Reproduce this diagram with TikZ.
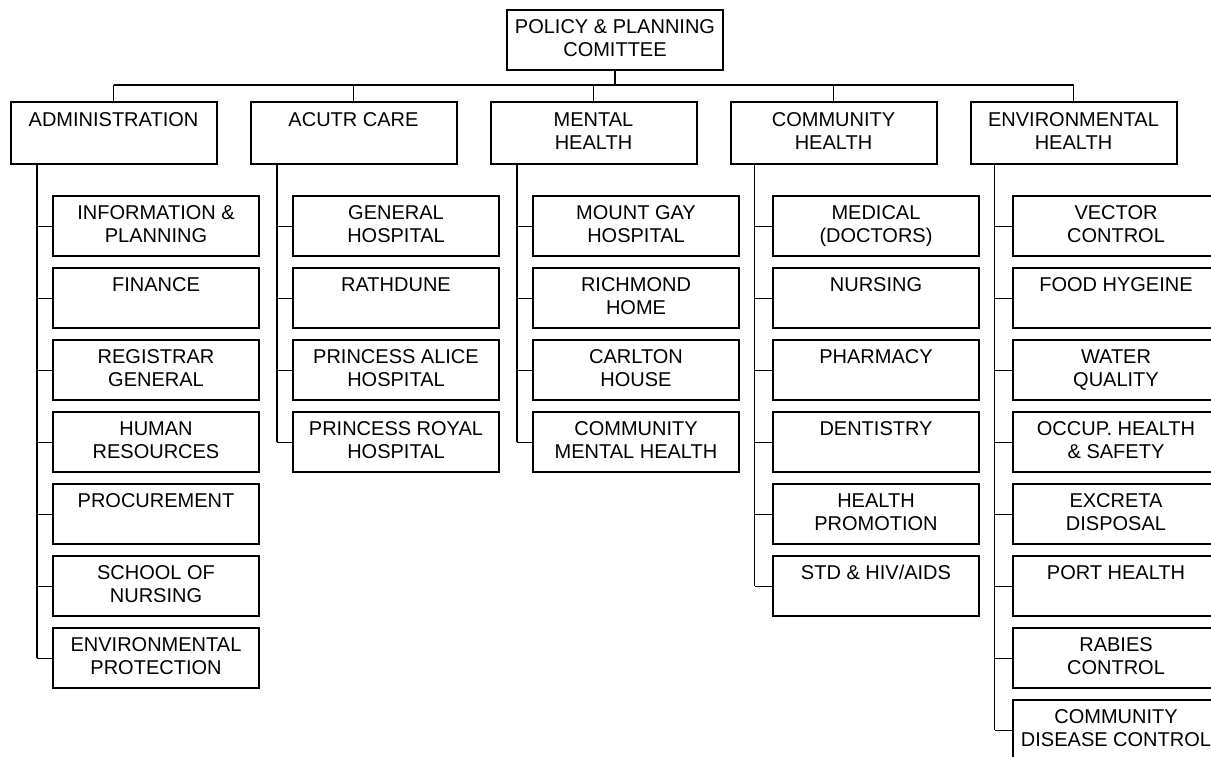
\documentclass[tikz,border=0pt]{standalone}
\usepackage{fontspec}
\setmainfont{Liberation Sans}
\newcommand{\lines}[2]{\strut #1\\\strut #2}

\begin{document}
\begin{tikzpicture}[x=1pt,y=-1pt,
        unit/.style={draw, line width=2pt, minimum width=206pt, minimum height=60pt, inner sep=0pt, align=center, font=\fontsize{20}{23.3}\selectfont},
        dept/.style={unit, minimum height=62pt},
        link/.style={line width=1pt},
        trunk/.style={line width=1.5pt}]
        \useasboundingbox (0,0) rectangle (1211,757);

        \node[unit, minimum width=216pt] (ppc) at (615,40) {\lines{POLICY \& PLANNING}{COMITTEE}};

        \node[dept] (adm) at (113.5,133) {\lines{ADMINISTRATION}{}};
        \node[dept] (acu) at (353.5,133) {\lines{ACUTR CARE}{}};
        \node[dept] (men) at (593.5,133) {\lines{MENTAL}{HEALTH}};
        \node[dept] (com) at (833.5,133) {\lines{COMMUNITY}{HEALTH}};
        \node[dept] (env) at (1073.5,133) {\lines{ENVIRONMENTAL}{HEALTH}};

        \node[unit] (adm1) at (156,226) {\lines{INFORMATION \&}{PLANNING}};
        \node[unit] (adm2) at (156,298) {\lines{FINANCE}{}};
        \node[unit] (adm3) at (156,370) {\lines{REGISTRAR}{GENERAL}};
        \node[unit] (adm4) at (156,442) {\lines{HUMAN}{RESOURCES}};
        \node[unit] (adm5) at (156,514) {\lines{PROCUREMENT}{}};
        \node[unit] (adm6) at (156,586) {\lines{SCHOOL OF}{NURSING}};
        \node[unit] (adm7) at (156,658) {\lines{ENVIRONMENTAL}{PROTECTION}};

        \node[unit] (acu1) at (396,226) {\lines{GENERAL}{HOSPITAL}};
        \node[unit] (acu2) at (396,298) {\lines{RATHDUNE}{}};
        \node[unit] (acu3) at (396,370) {\lines{PRINCESS ALICE}{HOSPITAL}};
        \node[unit] (acu4) at (396,442) {\lines{PRINCESS ROYAL}{HOSPITAL}};

        \node[unit] (men1) at (636,226) {\lines{MOUNT GAY}{HOSPITAL}};
        \node[unit] (men2) at (636,298) {\lines{RICHMOND}{HOME}};
        \node[unit] (men3) at (636,370) {\lines{CARLTON}{HOUSE}};
        \node[unit] (men4) at (636,442) {\lines{COMMUNITY}{MENTAL HEALTH}};

        \node[unit] (com1) at (876,226) {\lines{MEDICAL}{(DOCTORS)}};
        \node[unit] (com2) at (876,298) {\lines{NURSING}{}};
        \node[unit] (com3) at (876,370) {\lines{PHARMACY}{}};
        \node[unit] (com4) at (876,442) {\lines{DENTISTRY}{}};
        \node[unit] (com5) at (876,514) {\lines{HEALTH}{PROMOTION}};
        \node[unit] (com6) at (876,586) {\lines{STD \& HIV/AIDS}{}};

        \node[unit] (env1) at (1116,226) {\lines{VECTOR}{CONTROL}};
        \node[unit] (env2) at (1116,298) {\lines{FOOD HYGEINE}{}};
        \node[unit] (env3) at (1116,370) {\lines{WATER}{QUALITY}};
        \node[unit] (env4) at (1116,442) {\lines{OCCUP. HEALTH}{\& SAFETY}};
        \node[unit] (env5) at (1116,514) {\lines{EXCRETA}{DISPOSAL}};
        \node[unit] (env6) at (1116,586) {\lines{PORT HEALTH}{}};
        \node[unit] (env7) at (1116,658) {\lines{RABIES}{CONTROL}};
        \node[unit] (env8) at (1116,730) {\lines{COMMUNITY}{DISEASE CONTROL}};

        % bus under the committee
        \coordinate (bus) at (0,85);
        \draw[trunk] (ppc.south) -- (ppc.south |- bus);
        \draw[trunk] (adm.north |- bus) -- (env.north |- bus);
        \draw[link] (adm.north |- bus) -- (adm.north);
        \draw[link] (acu.north |- bus) -- (acu.north);
        \draw[link] (men.north |- bus) -- (men.north);
        \draw[link] (com.north |- bus) -- (com.north);
        \draw[link] (env.north |- bus) -- (env.north);

        % trunks
        \coordinate (admT) at ([xshift=27.5pt]adm.south west);
        \coordinate (acuT) at ([xshift=27.5pt]acu.south west);
        \coordinate (menT) at ([xshift=27.5pt]men.south west);
        \coordinate (comT) at ([xshift=25pt]com.south west);
        \coordinate (envT) at ([xshift=25pt]env.south west);
        \draw[trunk] (admT) -- (admT |- adm7.west);
        \draw[trunk] (acuT) -- (acuT |- acu4.west);
        \draw[trunk] (menT) -- (menT |- men4.west);
        \draw[trunk] (comT) -- (comT |- com6.west);
        \draw[trunk] (envT) -- (envT |- env8.west);

        % ticks
        \draw[link] (adm1.west) -- (adm1.west -| admT);
        \draw[link] (adm2.west) -- (adm2.west -| admT);
        \draw[link] (adm3.west) -- (adm3.west -| admT);
        \draw[link] (adm4.west) -- (adm4.west -| admT);
        \draw[link] (adm5.west) -- (adm5.west -| admT);
        \draw[link] (adm6.west) -- (adm6.west -| admT);
        \draw[link] (adm7.west) -- (adm7.west -| admT);
        \draw[link] (acu1.west) -- (acu1.west -| acuT);
        \draw[link] (acu2.west) -- (acu2.west -| acuT);
        \draw[link] (acu3.west) -- (acu3.west -| acuT);
        \draw[link] (acu4.west) -- (acu4.west -| acuT);
        \draw[link] (men1.west) -- (men1.west -| menT);
        \draw[link] (men2.west) -- (men2.west -| menT);
        \draw[link] (men3.west) -- (men3.west -| menT);
        \draw[link] (men4.west) -- (men4.west -| menT);
        \draw[link] (com1.west) -- (com1.west -| comT);
        \draw[link] (com2.west) -- (com2.west -| comT);
        \draw[link] (com3.west) -- (com3.west -| comT);
        \draw[link] (com4.west) -- (com4.west -| comT);
        \draw[link] (com5.west) -- (com5.west -| comT);
        \draw[link] (com6.west) -- (com6.west -| comT);
        \draw[link] (env1.west) -- (env1.west -| envT);
        \draw[link] (env2.west) -- (env2.west -| envT);
        \draw[link] (env3.west) -- (env3.west -| envT);
        \draw[link] (env4.west) -- (env4.west -| envT);
        \draw[link] (env5.west) -- (env5.west -| envT);
        \draw[link] (env6.west) -- (env6.west -| envT);
        \draw[link] (env7.west) -- (env7.west -| envT);
        \draw[link] (env8.west) -- (env8.west -| envT);
    \end{tikzpicture}
\end{document}
